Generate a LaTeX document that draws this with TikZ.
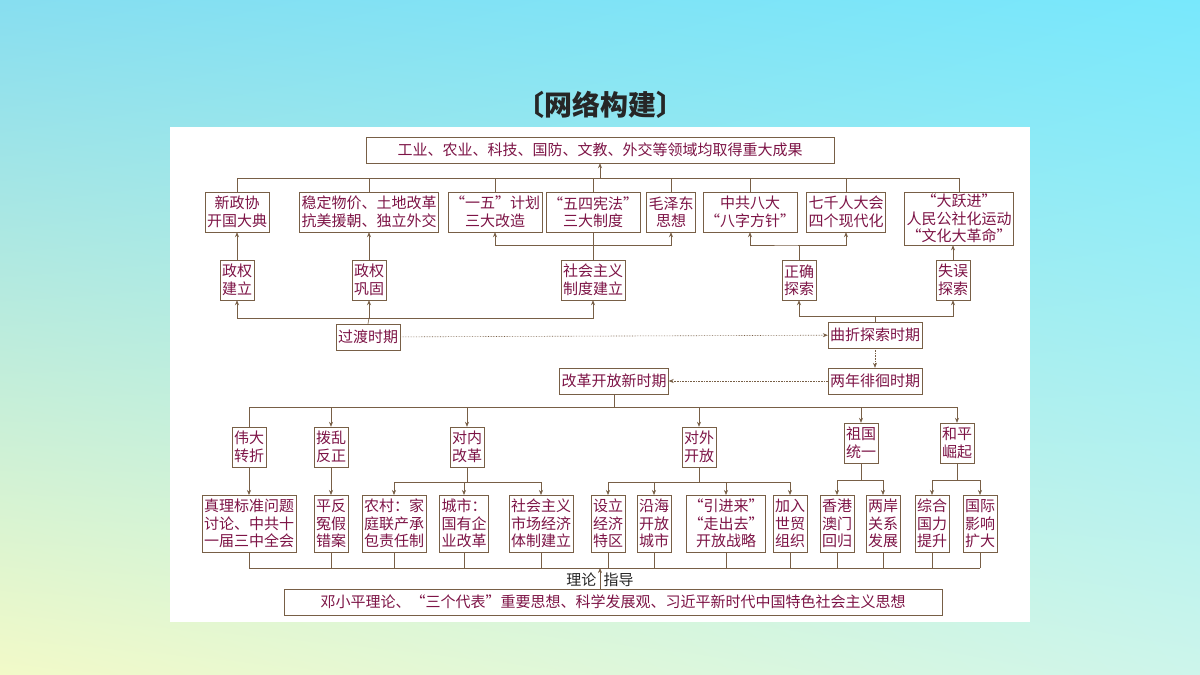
\documentclass[tikz,border=0pt]{standalone}
\usepackage{fontspec}
\setmainfont{Noto Sans CJK SC}
\usetikzlibrary{arrows.meta,shadings}
\definecolor{txt}{RGB}{125,20,70}
\definecolor{ln}{RGB}{120,95,70}
\definecolor{bgul}{RGB}{135,222,240}
\definecolor{bgur}{RGB}{120,232,252}
\definecolor{bgll}{RGB}{242,250,200}
\definecolor{bglr}{RGB}{205,245,235}
\tikzset{
	box/.style={draw=ln, fill=white, text=txt, align=center, inner sep=2pt, font=\fontsize{15}{17.5}\selectfont},
	arr/.style={-{Stealth[length=5pt,width=4pt]}, ln, semithick},
	seg/.style={ln, semithick},
	dsh/.style={-{Stealth[length=5pt,width=4pt]}, ln, semithick, densely dotted}
}
\begin{document}
\begin{tikzpicture}[x=1pt,y=-1pt]
	\useasboundingbox (0,0) rectangle (1200,675);
	\shade[upper left=bgul, upper right=bgur, lower left=bgll, lower right=bglr] (0,0) rectangle (1200,675);
	\fill[white] (170,127) rectangle (1030,622);
	\node[font=\fontsize{28}{30}\selectfont\bfseries, text=black!85] (title) at (600,105) {〔网络构建〕};

	% top
	\node[box, minimum width=468pt, minimum height=26pt] (gain) at (600,150) {工业、农业、科技、国防、文教、外交等领域均取得重大成果};
	% row 1
	\node[box, minimum height=40pt] (zxie) at (237,212) {新政协\\开国大典};
	\node[box, minimum height=40pt] (wdwj) at (369,212) {稳定物价、土地改革\\抗美援朝、独立外交};
	\node[box, minimum height=40pt] (yiwu) at (495,212) {“一五”计划\\三大改造};
	\node[box, minimum height=40pt] (wusi) at (593,212) {“五四宪法”\\三大制度};
	\node[box, minimum height=40pt] (mao) at (671,212) {毛泽东\\思想};
	\node[box, minimum height=40pt] (bada) at (750,212) {中共八大\\“八字方针”};
	\node[box, minimum height=40pt] (qqian) at (846,212) {七千人大会\\四个现代化};
	\node[box, anchor=north] (dyj) at (959,192) {“大跃进”\\人民公社化运动\\“文化大革命”};
	% row 2
	\node[box, minimum height=40pt] (jianli) at (237,280) {政权\\建立};
	\node[box, minimum height=40pt] (gonggu) at (369,280) {政权\\巩固};
	\node[box, minimum height=40pt] (zhidu) at (593,280) {社会主义\\制度建立};
	\node[box, minimum height=40pt] (zhengque) at (799,280) {正确\\探索};
	\node[box, minimum height=40pt] (shiwu) at (953,280) {失误\\探索};
	% periods
	\node[box, minimum height=26pt] (guodu) at (368,337) {过渡时期};
	\node[box, minimum height=26pt] (quzhe) at (875,335) {曲折探索时期};
	\node[box, minimum height=26pt] (liangnian) at (875,381) {两年徘徊时期};
	\node[box, minimum height=26pt] (gaige) at (614,381) {改革开放新时期};

	\coordinate (top) at (600,178);
	\draw[arr] (top) -- (gain);
	\draw[seg] (237,178) -- (959,178);
	\foreach \n in {zxie,wdwj,yiwu,wusi,mao,bada,qqian,dyj}
		\draw[seg] (\n.north |- top) -- (\n.north);
	\draw[arr] (jianli) -- (zxie);
	\draw[arr] (gonggu) -- (wdwj);
	\draw[seg] (zhidu.north) -- (wusi.south);
	\draw[arr] (593,245) -| (yiwu.south);
	\draw[arr] (593,245) -| (mao.south);
	\draw[arr] (zhengque.north) |- (798,245) -| (bada.south);
	\draw[arr] (798,245) -| (qqian.south);
	\draw[arr] (shiwu) -- (dyj.south -| shiwu);
	\draw[seg] (guodu.north) -- (369,318);
	\draw[arr] (369,318) -| (jianli.south);
	\draw[arr] (369,318) -- (gonggu.south);
	\draw[arr] (369,318) -| (zhidu.south);
	\draw[seg] (quzhe.north) -- (875,316);
	\draw[arr] (875,316) -| (zhengque.south);
	\draw[arr] (875,316) -| (shiwu.south);
	\draw[dsh] (guodu) -- (quzhe);
	\draw[dsh] (quzhe) -- (liangnian);
	\draw[dsh] (liangnian) -- (gaige);

	% row 3
	\node[box, minimum height=40pt] (weida) at (249,447) {伟大\\转折};
	\node[box, minimum height=40pt] (boluan) at (331,447) {拨乱\\反正};
	\node[box, minimum height=40pt] (duinei) at (467,447) {对内\\改革};
	\node[box, minimum height=40pt] (duiwai) at (699,447) {对外\\开放};
	\node[box, minimum height=40pt] (tongyi) at (861,443) {祖国\\统一};
	\node[box, minimum height=40pt] (heping) at (957,443) {和平\\崛起};
	\coordinate (bus3) at (614,407);
	\draw[seg] (gaige.south) -- (bus3);
	\draw[seg] (249,407) -- (957,407);
	\draw[seg] (249,407) -- (weida.north);
	\foreach \n in {boluan,duinei,duiwai,tongyi,heping}
		\draw[arr] (\n.north |- bus3) -- (\n.north);

	% row 4
	\tikzset{leaf/.style={box, minimum height=57pt, anchor=north}}
	\node[leaf] (zhenli) at (249,495) {真理标准问题\\讨论、中共十\\一届三中全会};
	\node[leaf] (pingfan) at (331,495) {平反\\冤假\\错案};
	\node[leaf] (nongcun) at (394,495) {农村：家\\庭联产承\\包责任制};
	\node[leaf] (chengshi) at (464,495) {城市：\\国有企\\业改革};
	\node[leaf] (shichang) at (541,495) {社会主义\\市场经济\\体制建立};
	\node[leaf] (tequ) at (608,495) {设立\\经济\\特区};
	\node[leaf] (yanhai) at (654,495) {沿海\\开放\\城市};
	\node[leaf] (yinjin) at (726,495) {“引进来”\\“走出去”\\开放战略};
	\node[leaf] (shimao) at (790,495) {加入\\世贸\\组织};
	\node[leaf] (xianggang) at (837,495) {香港\\澳门\\回归};
	\node[leaf] (liangan) at (883,495) {两岸\\关系\\发展};
	\node[leaf] (zonghe) at (932,495) {综合\\国力\\提升};
	\node[leaf] (guoji) at (980,495) {国际\\影响\\扩大};

	\draw[arr] (weida) -- (zhenli);
	\draw[arr] (boluan) -- (pingfan);
	\draw[seg] (duinei.south) -- (467,482);
	\draw[seg] (394,482) -- (541,482);
	\foreach \n in {nongcun,chengshi,shichang}
		\draw[arr] (\n.north |- 0,482) -- (\n.north);
	\draw[seg] (duiwai.south) -- (699,482);
	\draw[seg] (608,482) -- (790,482);
	\foreach \n in {tequ,yanhai,yinjin,shimao}
		\draw[arr] (\n.north |- 0,482) -- (\n.north);
	\draw[seg] (tongyi.south) -- (861,480) (837,480) -- (883,480);
	\draw[seg] (heping.south) -- (957,480) (932,480) -- (980,480);
	\foreach \n in {xianggang,liangan,zonghe,guoji}
		\draw[arr] (\n.north |- 0,480) -- (\n.north);

	% bottom
	\node[box, minimum width=658pt, minimum height=26pt] (lilun) at (613,602) {邓小平理论、“三个代表”重要思想、科学发展观、习近平新时代中国特色社会主义思想};
	\coordinate (bus5) at (600,568);
	\draw[seg] (249,568) -- (980,568);
	\foreach \n in {zhenli,pingfan,nongcun,chengshi,shichang,tequ,yanhai,yinjin,shimao,xianggang,liangan,zonghe,guoji}
		\draw[seg] (\n.south) -- (\n.south |- bus5);
	\draw[arr] (lilun.north -| bus5) -- (bus5) node[pos=0.45, left, text=black!85, font=\fontsize{15}{17}\selectfont] {理论} node[pos=0.45, right, text=black!85, font=\fontsize{15}{17}\selectfont] {指导};
\end{tikzpicture}
\end{document}
